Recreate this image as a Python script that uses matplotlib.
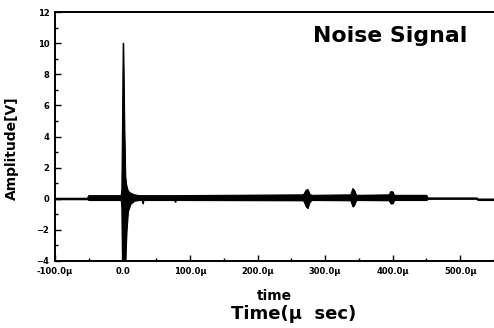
import matplotlib
matplotlib.use("Agg")
import matplotlib.pyplot as plt
from matplotlib.ticker import MultipleLocator, FixedLocator

# Envelope of the recorded noise signal (time in microseconds, amplitude in V)
time_us = [-100, -52, -50, -2, -1, 0, 1, 2.5, 4, 5, 6, 8, 12, 18, 25,
           29, 30, 31, 77, 78, 79, 268, 272, 274, 277, 280,
           338, 341, 343, 346, 395, 397, 400, 402, 450, 452, 525, 526, 553]
upper_v = [0.03, 0.03, 0.2, 0.2, 0.6, 5.0, 10.0, 5.0, 1.5, 1.0, 0.8, 0.5, 0.35, 0.25, 0.2,
           0.2, 0.2, 0.2, 0.2, 0.2, 0.2, 0.25, 0.55, 0.6, 0.3, 0.22,
           0.25, 0.65, 0.55, 0.22, 0.25, 0.45, 0.45, 0.22, 0.22, 0.05, 0.05, -0.02, -0.02]
lower_v = [-0.03, -0.03, -0.08, -0.08, -0.6, -4.5, -4.5, -4.5, -4.5, -3.0, -2.0, -0.8, -0.3, -0.12, -0.08,
           -0.08, -0.3, -0.08, -0.08, -0.2, -0.08, -0.1, -0.5, -0.6, -0.2, -0.08,
           -0.1, -0.5, -0.4, -0.08, -0.1, -0.3, -0.3, -0.08, -0.08, 0.0, 0.0, -0.08, -0.08]

x_ticks = [-100, 0, 100, 200, 300, 400, 500]
x_tick_labels = ["-100.0\u03bc", "0.0", "100.0\u03bc", "200.0\u03bc", "300.0\u03bc", "400.0\u03bc", "500.0\u03bc"]
y_ticks = [-4, -2, 0, 2, 4, 6, 8, 10, 12]

plt.rcParams['font.family'] = ['DejaVu Sans']

fig = plt.figure(figsize=(4.94, 3.28), dpi=100)
ax = fig.add_axes([55/494, 1-261/328, 441/494, 249/328])

ax.fill_between(time_us, lower_v, upper_v, color='black', lw=0.8)
ax.plot(time_us, upper_v, color='black', lw=0.8)
ax.plot(time_us, lower_v, color='black', lw=0.8)

ax.set_xlim(-100, 553)
ax.set_ylim(-4, 12)
ax.xaxis.set_major_locator(FixedLocator(x_ticks))
ax.set_xticklabels(x_tick_labels)
ax.xaxis.set_minor_locator(MultipleLocator(50))
ax.set_yticks(y_ticks)
ax.yaxis.set_minor_locator(MultipleLocator(1))
ax.tick_params(which='both', direction='in', top=False, right=False, width=1.0)
ax.tick_params(which='major', length=4, labelsize=6, pad=4)
ax.tick_params(which='minor', length=2)
for lab in ax.get_xticklabels() + ax.get_yticklabels():
    lab.set_fontweight('bold')
for s in ax.spines.values():
    s.set_linewidth(1.4)
ax.spines['right'].set_visible(False)

fig.text(313/494, 1-42/328, "Noise Signal", fontsize=15.8, fontweight='bold',
         ha='left', va='baseline')
fig.text(12/494, 1-148/328, "Amplitude[V]", rotation=90, fontsize=10, fontweight='bold',
         ha='center', va='center')
fig.text(274/494, 1-296/328, "time", fontsize=10, fontweight='bold', ha='center', va='center')
fig.text(294/494, 1-314/328, "Time(\u03bc  sec)", fontsize=13, fontweight='bold', ha='center', va='center')

fig.savefig("out.png", dpi=100)
